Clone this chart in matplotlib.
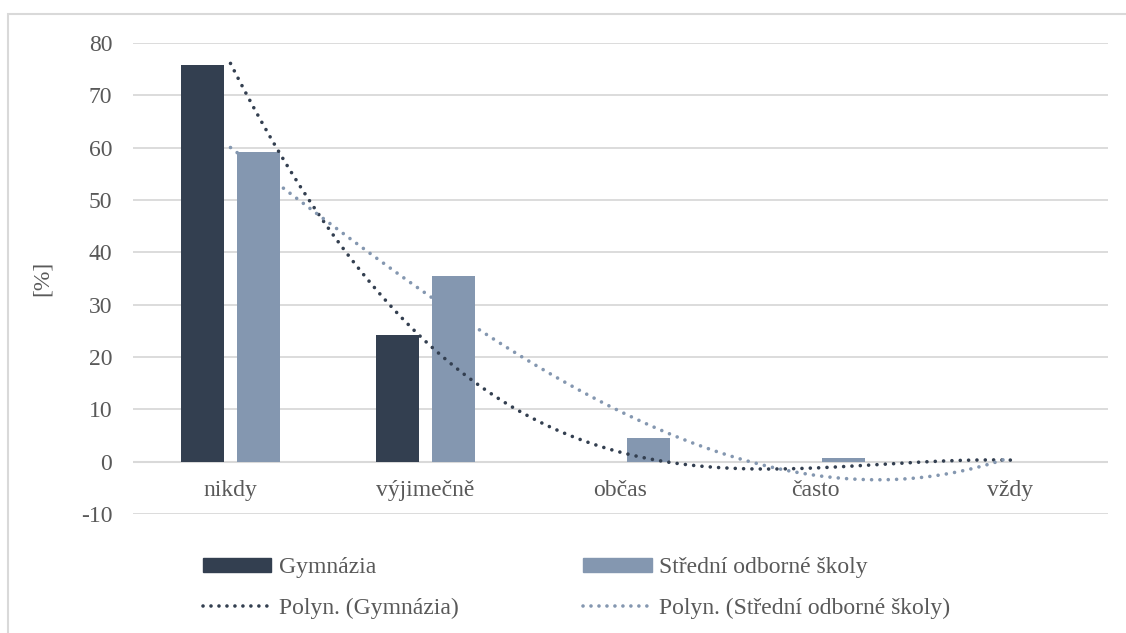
import numpy as np
import matplotlib
matplotlib.use('Agg')
import matplotlib.pyplot as plt
from matplotlib.patches import Rectangle, Patch
from matplotlib.lines import Line2D

plt.rcParams['font.family'] = ['Liberation Serif', 'DejaVu Serif']
plt.rcParams['axes.unicode_minus'] = False

categories = ['nikdy', 'výjimečně', 'občas', 'často', 'vždy']
gymnazia = [75.8, 24.2, 0.0, 0.0, 0.0]
sos = [59.2, 35.5, 4.6, 0.7, 0.0]
names = ['Gymnázia', 'Střední odborné školy']

c_gym = '#333f50'
c_sos = '#8497b0'
c_text = '#595959'
c_grid = '#d9d9d9'
fs = 17

fig = plt.figure(figsize=(11.26, 6.33), dpi=100)
ax = fig.add_axes([133/1126, 1-514/633, 975/1126, 471/633])

x = np.arange(len(categories))
w = 0.22
off = 0.144
ax.bar(x - off, gymnazia, w, color=c_gym, zorder=2)
ax.bar(x + off, sos, w, color=c_sos, zorder=2)

# polynomial trendlines (order 3), like Excel
xf = np.linspace(0, 4, 200)
dots = (0, (0.01, 2.3))
for vals, col in [(gymnazia, c_gym), (sos, c_sos)]:
    p = np.polyfit(x + 1, vals, 3)
    ax.plot(xf, np.polyval(p, xf + 1), color=col, lw=2.6, linestyle=dots,
            dash_capstyle='round', zorder=3)

ax.set_xlim(-0.5, 4.5)
ax.set_ylim(-10, 80)
ax.set_yticks(np.arange(-10, 81, 10))
ax.yaxis.grid(True, color=c_grid, lw=1.3, zorder=0)
ax.axhline(0, color=c_grid, lw=1.5, zorder=1)
for s in ax.spines.values():
    s.set_visible(False)
ax.set_xticks([])
ax.tick_params(axis='y', length=0, labelsize=fs, labelcolor=c_text, pad=15)
for i, lab in enumerate(categories):
    ax.text(i, -5.5, lab, ha='center', va='center', fontsize=fs, color=c_text)
ax.set_ylabel('[%]', fontsize=fs, color=c_text, labelpad=20)

handles = [
    Patch(color=c_gym),
    Line2D([], [], color=c_gym, lw=2.6, linestyle=(0, (0.01, 2.2)), dash_capstyle='round'),
    Patch(color=c_sos),
    Line2D([], [], color=c_sos, lw=2.6, linestyle=(0, (0.01, 2.2)), dash_capstyle='round'),
]
labels = [names[0], 'Polyn. (' + names[0] + ')', names[1], 'Polyn. (' + names[1] + ')']
fig.legend(handles, labels, ncol=2, loc='upper left', bbox_to_anchor=(203/1126, 1-557/633),
           frameon=False, fontsize=fs, labelcolor=c_text, borderpad=0, borderaxespad=0,
           handlelength=2.9, handleheight=0.55, handletextpad=0.3, labelspacing=0.82,
           columnspacing=5.3)

fig.patches.append(Rectangle((8/1126, -0.2), 1.2, 1.2 - 14/633, transform=fig.transFigure,
                             fill=False, edgecolor=c_grid, lw=1.5))

fig.savefig('out.png', dpi=100)
